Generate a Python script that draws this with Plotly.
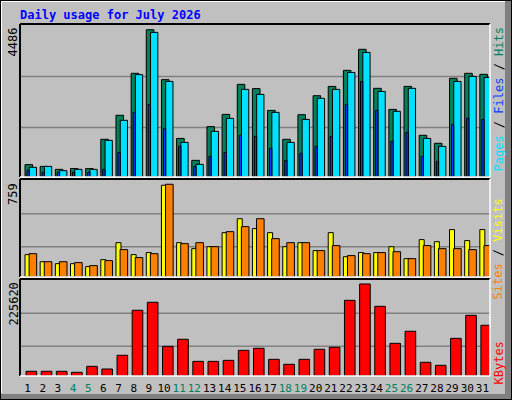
import plotly.graph_objects as go

days = list(range(1, 32))
weekend = [4, 5, 11, 12, 18, 19, 25, 26]
hits_max = 4486
visits_max = 759
kb_max = 225620

hits_f = [0.084,0.072,0.052,0.057,0.057,0.256,0.419,0.704,1.0,0.661,0.262,0.113,0.342,0.425,0.629,0.600,
          0.452,0.256,0.423,0.552,0.615,0.724,0.867,0.602,0.459,0.615,0.283,0.229,0.670,0.704,0.697]
files_f = [0.066,0.072,0.043,0.052,0.052,0.249,0.385,0.695,0.982,0.649,0.235,0.086,0.310,0.398,0.595,0.561,
           0.439,0.235,0.391,0.534,0.595,0.710,0.846,0.581,0.446,0.602,0.262,0.208,0.649,0.683,0.676]
pages_f = [0.045,0.032,0.032,0.032,0.032,0.052,0.167,0.439,0.493,0.330,0.208,0.072,0.140,0.167,0.283,0.276,
           0.195,0.113,0.161,0.208,0.276,0.493,0.649,0.452,0.242,0.303,0.140,0.106,0.357,0.398,0.391]
sites_f = [0.241,0.165,0.144,0.144,0.112,0.187,0.370,0.241,0.263,0.989,0.370,0.306,0.327,0.478,0.629,0.522,
           0.478,0.327,0.370,0.284,0.478,0.219,0.263,0.263,0.327,0.198,0.403,0.381,0.511,0.392,0.511]
visits_f = [0.252,0.165,0.165,0.155,0.122,0.176,0.295,0.209,0.252,1.0,0.360,0.370,0.327,0.489,0.543,0.629,
            0.414,0.370,0.370,0.284,0.338,0.230,0.252,0.263,0.273,0.198,0.338,0.306,0.306,0.295,0.338]
kb_f = [0.051,0.051,0.051,0.040,0.105,0.076,0.225,0.714,0.801,0.322,0.399,0.159,0.159,0.170,0.279,0.301,
        0.181,0.127,0.181,0.290,0.312,0.822,1.0,0.757,0.355,0.486,0.149,0.116,0.409,0.659,0.551]

hits = [round(f * hits_max) for f in hits_f]
files = [round(f * hits_max) for f in files_f]
pages = [round(f * hits_max) for f in pages_f]
sites = [round(f * visits_max) for f in sites_f]
visits = [round(f * visits_max) for f in visits_f]
kbytes = [round(f * kb_max) for f in kb_f]

W, H = 512, 400
def px(x): return x / W
def py(y): return 1 - y / H

FONT = "DejaVu Sans Mono"
line = dict(color="black", width=1)
fig = go.Figure()
fig.add_bar(x=days, y=hits, width=0.5, offset=-0.17, marker=dict(color="#00805C", line=line), xaxis="x", yaxis="y")
fig.add_bar(x=days, y=files, width=0.48, offset=0.11, marker=dict(color="#00E0FF", line=line), xaxis="x", yaxis="y")
fig.add_bar(x=days, y=pages, width=0.15, offset=-0.04, marker=dict(color="#0040FF", line=line), xaxis="x", yaxis="y")
fig.add_bar(x=days, y=sites, width=0.33, offset=-0.17, marker=dict(color="#FFFF00", line=line), xaxis="x2", yaxis="y2")
fig.add_bar(x=days, y=visits, width=0.5, offset=0.1, marker=dict(color="#FF8000", line=line), xaxis="x2", yaxis="y2")
fig.add_bar(x=days, y=kbytes, width=0.7, offset=-0.1, marker=dict(color="#FF0000", line=line), xaxis="x3", yaxis="y3")

panels = [(25, 177, hits_max, 1.032, [0.336, 0.683]),
          (180, 277, visits_max, 1.046, [0.327, 0.683]),
          (280, 376, kb_max, 1.043, [0.322, 0.681])]
ticktext = [f'<span style="color:{"#00805C" if d in weekend else "black"}">{d}</span>' for d in days]
shapes = [
    dict(type="rect", xref="paper", yref="paper", x0=px(505), x1=1, y0=0, y1=1, fillcolor="#808080", line_width=0, layer="below"),
    dict(type="rect", xref="paper", yref="paper", x0=0, x1=1, y0=0, y1=py(394), fillcolor="#808080", line_width=0, layer="below"),
    dict(type="rect", xref="paper", yref="paper", x0=0, x1=1, y0=0, y1=1, line=dict(color="black", width=2)),
    dict(type="line", xref="paper", yref="paper", x0=px(1.5), x1=px(1.5), y0=py(393), y1=py(1.5), line=dict(color="white", width=1)),
    dict(type="line", xref="paper", yref="paper", x0=px(1.5), x1=px(505), y0=py(1.5), y1=py(1.5), line=dict(color="white", width=1)),
]
layout = dict(width=W, height=H, margin=dict(l=0, r=0, t=0, b=0), paper_bgcolor="#C0C0C0",
              plot_bgcolor="#C0C0C0", barmode="overlay", showlegend=False, font=dict(family=FONT, size=11))
for i, (top, bot, mx, r, grids) in enumerate(panels):
    s = "" if i == 0 else str(i + 1)
    xa = dict(domain=[px(20), px(490)], range=[0.5, 31.5], showgrid=False, zeroline=False, fixedrange=True,
              anchor="y" + s, showticklabels=(i == 2), ticks="")
    if i == 2:
        xa.update(tickvals=days, ticktext=ticktext, tickangle=0, ticklabelstandoff=4,
                  tickfont=dict(family=FONT, size=11))
    layout["xaxis" + s] = xa
    layout["yaxis" + s] = dict(domain=[py(bot), py(top)], range=[0, mx * r], showgrid=False, zeroline=False,
                               showticklabels=False, anchor="x" + s)
    for g in grids:
        shapes.append(dict(type="line", xref="x" + s + " domain", yref="y" + s, x0=0, x1=1, y0=g * mx, y1=g * mx,
                           line=dict(color="#808080", width=1.5), layer="below"))
    shapes.append(dict(type="line", xref="paper", yref="paper", x0=px(20), x1=px(490), y0=py(top - 1), y1=py(top - 1), line=dict(color="black", width=2)))
    shapes.append(dict(type="line", xref="paper", yref="paper", x0=px(20), x1=px(20), y0=py(bot), y1=py(top - 1), line=dict(color="black", width=2)))
    shapes.append(dict(type="line", xref="paper", yref="paper", x0=px(490), x1=px(490), y0=py(bot), y1=py(top - 1), line=dict(color="white", width=1.5)))
    shapes.append(dict(type="line", xref="paper", yref="paper", x0=px(20), x1=px(490), y0=py(bot), y1=py(bot), line=dict(color="white", width=1.5)))
layout["shapes"] = shapes

ann = [dict(text="<b>Daily usage for July 2026</b>", x=px(18), y=py(15), xref="paper", yref="paper",
            xanchor="left", yanchor="middle", showarrow=False, font=dict(color="#0000FF", size=12, family=FONT))]
for (top, bot, mx, r, g), lab in zip(panels, [str(hits_max), str(visits_max), str(kb_max)]):
    ann.append(dict(text=lab, x=px(13), y=py(top + 1), xref="paper", yref="paper", xanchor="center", yanchor="top",
                    textangle=-90, showarrow=False, font=dict(color="black", size=12, family=FONT)))
sep = '<span style="color:black"> / </span>'
ann.append(dict(text='<span style="color:#00E0FF">Pages</span>' + sep + '<span style="color:#0040FF">Files</span>' + sep +
                '<span style="color:#00805C">Hits</span>', x=px(498), y=py(25), xref="paper", yref="paper",
                xanchor="center", yanchor="top", textangle=-90, showarrow=False, font=dict(size=12, family=FONT)))
ann.append(dict(text='<span style="color:#FF8000">Sites</span>' + sep + '<span style="color:#FFFF00">Visits</span>',
                x=px(498), y=py(197), xref="paper", yref="paper", xanchor="center", yanchor="top", textangle=-90,
                showarrow=False, font=dict(size=12, family=FONT)))
ann.append(dict(text='<span style="color:#FF0000">KBytes</span>', x=px(498), y=py(340), xref="paper", yref="paper",
                xanchor="center", yanchor="top", textangle=-90, showarrow=False, font=dict(size=12, family=FONT)))
layout["annotations"] = ann
fig.update_layout(**layout)
fig.write_html("out.html", config={"displayModeBar": False},
               post_script="document.body.style.margin='0';document.body.style.overflow='hidden';")
